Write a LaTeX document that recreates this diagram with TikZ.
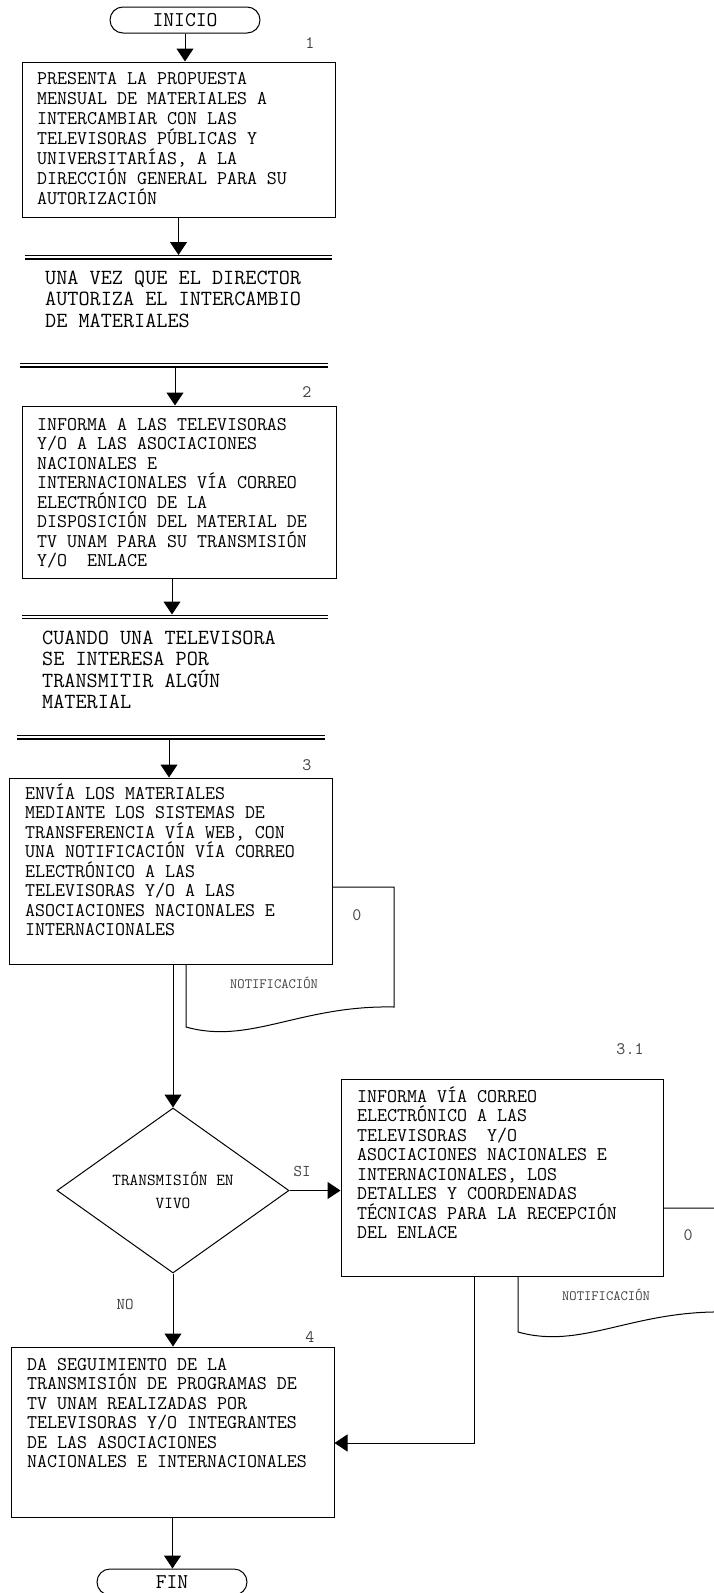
\documentclass[tikz,border=0pt]{standalone}
\usepackage{fontspec}
\usepackage{tikz}
\usetikzlibrary{arrows.meta,calc,positioning,shapes.geometric,shapes.misc}

\tikzset{
  caja/.style={draw, line width=1pt, rectangle, inner sep=0pt},
  terminal/.style={draw, line width=1pt, rounded rectangle, minimum width=150pt, minimum height=26pt, inner sep=0pt, font=\ttfamily\fontsize{21}{24}\selectfont},
  decision/.style={draw, line width=1pt, diamond, minimum width=232pt, minimum height=165pt, inner sep=0pt, align=center, font=\ttfamily\fontsize{16.8}{23}\selectfont},
  texto/.style={anchor=base west, align=left, inner sep=0pt, font=\ttfamily\fontsize{19.4}{19.5}\selectfont},
  condicion/.style={anchor=base west, align=left, inner sep=0pt, font=\ttfamily\fontsize{21.6}{21.6}\selectfont},
  num/.style={inner sep=0pt, text=black!75, font=\ttfamily\fontsize{17.5}{18}\selectfont},
  nota/.style={inner sep=0pt, text=black!75, font=\ttfamily\fontsize{14.2}{16}\selectfont},
  flecha/.style={line width=1pt, -{Triangle[length=13pt,width=17pt]}},
  linea/.style={line width=1pt},
  doble/.style={line width=1.2pt, double, double distance=2.2pt},
}

\begin{document}
\begin{tikzpicture}[x=1pt,y=-1pt]
\useasboundingbox (0,0) rectangle (713,1593);

\node[terminal] (inicio) at (185,20) {INICIO};

\node[caja, minimum width=313pt, minimum height=155pt] (caja1) at (178.5,139.5) {};
\node[texto, font=\ttfamily\fontsize{19.4}{20}\selectfont] (texto1) at (37,204) {PRESENTA LA PROPUESTA\\MENSUAL DE MATERIALES A\\INTERCAMBIAR CON LAS\\TELEVISORAS PÚBLICAS Y\\UNIVERSITARÍAS, A LA\\DIRECCIÓN GENERAL PARA SU\\AUTORIZACIÓN};
\node[num] (n1) at (310,43) {1};

\draw[doble] (25,257.3) -- (332,257.3);
\node[condicion] (cond1) at (45,327.2) {UNA VEZ QUE EL DIRECTOR\\AUTORIZA EL INTERCAMBIO\\DE MATERIALES};
\draw[doble] (20,365.2) -- (328,365.2);
\coordinate (dl1) at (178,255);
\coordinate (dl2) at (175,367.5);

\node[caja, minimum width=314pt, minimum height=172pt] (caja2) at (179,492) {};
\node[texto] (texto2) at (37,566.5) {INFORMA A LAS TELEVISORAS\\Y/O A LAS ASOCIACIONES\\NACIONALES E\\INTERNACIONALES VÍA CORREO\\ELECTRÓNICO DE LA\\DISPOSICIÓN DEL MATERIAL DE\\TV UNAM PARA SU TRANSMISIÓN\\Y/O~~ENLACE};
\node[num] (n2) at (307,392) {2};

\draw[doble] (22,616.8) -- (328,616.8);
\node[condicion] (cond2) at (42,708.8) {CUANDO UNA TELEVISORA\\SE INTERESA POR\\TRANSMITIR ALGÚN\\MATERIAL};
\draw[doble] (17,737.2) -- (325,737.2);
\coordinate (dl3) at (172,614.5);
\coordinate (dl4) at (169,739.5);

\draw[linea] (332,887) -- (394,887) -- (394,1007) .. controls (300,1005) and (250,1045) .. (186,1027) -- (186,964);
\node[num] (cero1) at (357,915) {0};
\node[nota] (notif1) at (274,983) {NOTIFICACIÓN};

\node[caja, minimum width=323pt, minimum height=186pt] (caja3) at (170.5,871) {};
\node[texto] (texto3) at (25,935.5) {ENVÍA LOS MATERIALES\\MEDIANTE LOS SISTEMAS DE\\TRANSFERENCIA VÍA WEB, CON\\UNA NOTIFICACIÓN VÍA CORREO\\ELECTRÓNICO A LAS\\TELEVISORAS Y/O A LAS\\ASOCIACIONES NACIONALES E\\INTERNACIONALES};
\node[num] (n3) at (307,765) {3};

\node[decision] (dec) at (173,1190.5) {TRANSMISIÓN EN\\VIVO};
\node[num, font=\ttfamily\fontsize{16.5}{18}\selectfont] (si) at (302,1171) {SI};
\node[num, font=\ttfamily\fontsize{16.5}{18}\selectfont] (no) at (125,1304) {NO};

\draw[linea] (663,1208) -- (726,1208) -- (726,1312) .. controls (632,1310) and (582,1350) .. (518,1332) -- (518,1276);
\node[num] (cero2) at (688,1235) {0};
\node[nota] (notif2) at (606,1295) {NOTIFICACIÓN};

\node[caja, minimum width=322pt, minimum height=197pt] (caja31) at (502,1177.5) {};
\node[texto] (texto31) at (357,1238.5) {INFORMA VÍA CORREO\\ELECTRÓNICO A LAS\\TELEVISORAS~~Y/O\\ASOCIACIONES NACIONALES E\\INTERNACIONALES, LOS\\DETALLES Y COORDENADAS\\TÉCNICAS PARA LA RECEPCIÓN\\DEL ENLACE};
\node[num] (n31) at (630,1049) {3.1};
\coordinate (codo) at (474,1443);

\node[caja, minimum width=323pt, minimum height=170pt] (caja4) at (172.5,1432) {};
\node[texto] (texto4) at (27,1467.5) {DA SEGUIMIENTO DE LA\\TRANSMISIÓN DE PROGRAMAS DE\\TV UNAM REALIZADAS POR\\TELEVISORAS Y/O INTEGRANTES\\DE LAS ASOCIACIONES\\NACIONALES E INTERNACIONALES};
\node[num] (n4) at (310,1337) {4};

\node[terminal] (fin) at (172,1582) {FIN};

\draw[flecha] (inicio.south) -- (inicio.south |- caja1.north);
\draw[flecha] (caja1.south) -- (caja1.south |- dl1);
\draw[flecha] (dl2) -- (dl2 |- caja2.north);
\draw[flecha] (caja2.south -| dl3) -- (dl3);
\draw[flecha] (dl4) -- (dl4 |- caja3.north);
\draw[flecha] (caja3.south -| dec.north) -- (dec.north);
\draw[flecha] (dec.east) -- (dec.east -| caja31.west);
\draw[flecha] (dec.south) -- (dec.south |- caja4.north);
\draw[flecha] (caja31.south -| codo) -- (codo) -- (codo -| caja4.east);
\draw[flecha] (caja4.south) -- (caja4.south |- fin.north);
\end{tikzpicture}
\end{document}
